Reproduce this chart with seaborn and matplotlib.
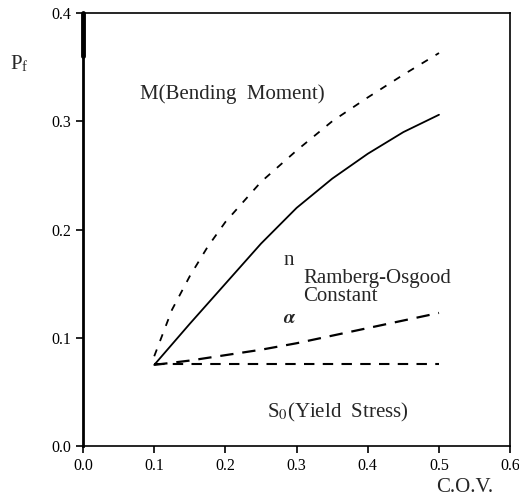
import matplotlib
matplotlib.use("Agg")
import matplotlib.pyplot as plt
import seaborn as sns
import pandas as pd

# Coefficient of variation of each random variable vs. failure probability
cov_m = [0.10, 0.125, 0.15, 0.175, 0.20, 0.25, 0.30, 0.35, 0.40, 0.45, 0.50]
pf_m = [0.083, 0.126, 0.157, 0.184, 0.207, 0.244, 0.273, 0.300, 0.322,
        0.343, 0.363]

cov_n = [0.10, 0.15, 0.20, 0.25, 0.30, 0.35, 0.40, 0.45, 0.50]
pf_n = [0.075, 0.113, 0.150, 0.187, 0.220, 0.247, 0.270, 0.290, 0.306]

cov_alpha = [0.10, 0.15, 0.20, 0.25, 0.30, 0.35, 0.40, 0.45, 0.50]
pf_alpha = [0.075, 0.079, 0.084, 0.089, 0.095, 0.102, 0.109, 0.116, 0.123]

cov_s0 = [0.10, 0.20, 0.30, 0.40, 0.50]
pf_s0 = [0.076, 0.076, 0.076, 0.076, 0.076]

x_ticks = [0.0, 0.1, 0.2, 0.3, 0.4, 0.5, 0.6]
y_ticks = [0.0, 0.1, 0.2, 0.3, 0.4]

sns.set_style("ticks")
plt.rcParams["font.family"] = ["Liberation Serif", "DejaVu Serif"]
plt.rcParams["mathtext.fontset"] = "stix"

fig = plt.figure(figsize=(5.19, 4.99), dpi=100)
ax = fig.add_axes([0.160, 0.106, 0.823, 0.868])

series = [
    (cov_m, pf_m, (0, (4, 5)), 1.3),
    (cov_n, pf_n, "-", 1.3),
    (cov_alpha, pf_alpha, (0, (6, 4)), 1.6),
    (cov_s0, pf_s0, (0, (5, 4)), 1.5),
]
for xs, ys, ls, lw in series:
    df = pd.DataFrame({"cov": xs, "pf": ys})
    sns.lineplot(data=df, x="cov", y="pf", ax=ax, color="black",
                 linestyle=ls, linewidth=lw)

ax.set_xlim(0.0, 0.6)
ax.set_ylim(0.0, 0.4)
ax.set_xticks(x_ticks)
ax.set_yticks(y_ticks)
ax.set_xticklabels([f"{v:.1f}" for v in x_ticks])
ax.set_yticklabels([f"{v:.1f}" for v in y_ticks])
ax.tick_params(axis="both", direction="out", length=5, width=1.2,
               labelsize=11.5, colors="black")
ax.set_xlabel("")
ax.set_ylabel("")
for side in ["top", "right", "bottom"]:
    ax.spines[side].set_linewidth(1.2)
    ax.spines[side].set_color("black")
ax.spines["left"].set_linewidth(2.0)
ax.spines["left"].set_color("black")
ax.axvline(0.0, ymin=0.9, ymax=1.0, color="black", linewidth=3.5,
           clip_on=False)

ax.text(0.080, 0.325, "M(Bending  Moment)", fontsize=15, va="center",
        ha="left")
ax.text(0.281, 0.171, "n", fontsize=15, va="center", ha="left")
ax.text(0.309, 0.155, "Ramberg-Osgood", fontsize=15, va="center", ha="left")
ax.text(0.309, 0.138, "Constant", fontsize=15, va="center", ha="left")
ax.text(0.281, 0.118, r"$\boldsymbol{\alpha}$", fontsize=14, va="center",
        ha="left")
ax.text(0.258, 0.031, r"S$_0$(Yield  Stress)", fontsize=15, va="center",
        ha="left")

fig.text(0.020, 0.872, r"P$_\mathregular{f}$", fontsize=15, va="center",
         ha="left")
fig.text(0.950, 0.024, "C.O.V.", fontsize=15, va="center", ha="right")

fig.savefig("out.png", dpi=100, facecolor="white")
